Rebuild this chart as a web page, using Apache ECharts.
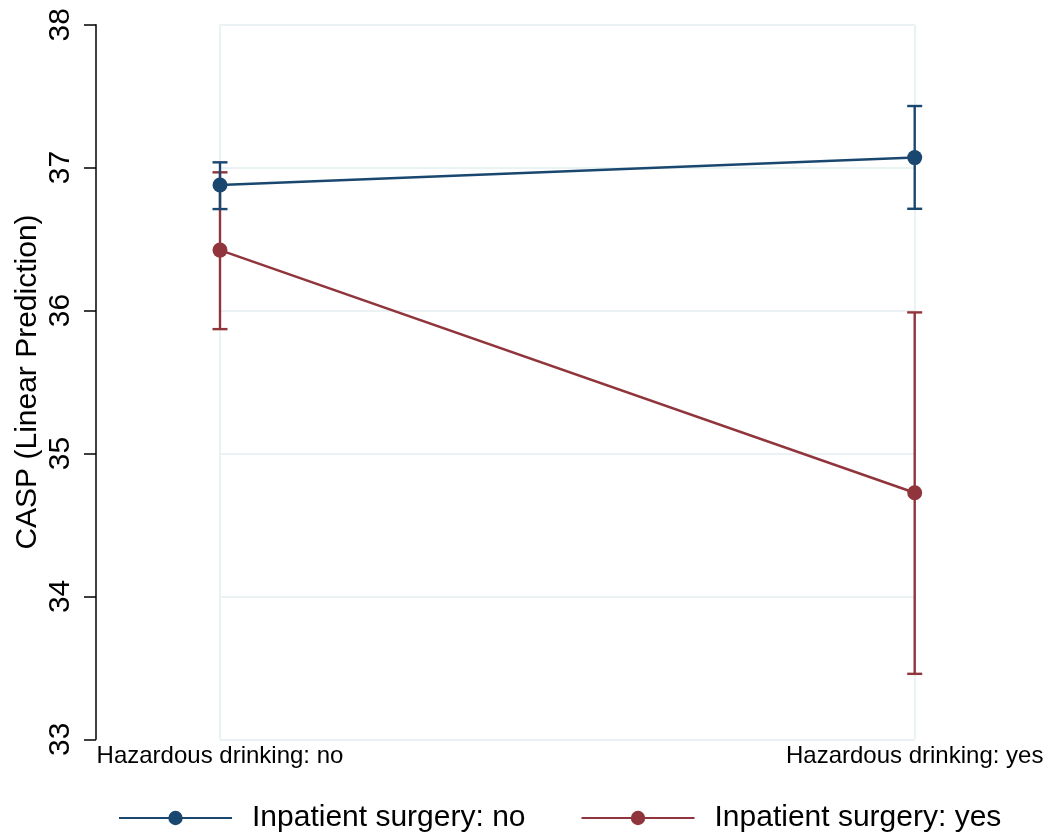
<!DOCTYPE html>
<html>
<head>
<meta charset="utf-8">
<script src="https://cdn.jsdelivr.net/npm/echarts@6/dist/echarts.min.js"></script>
<style>
  html, body { margin: 0; padding: 0; background: #ffffff; }
  #chart { width: 1052px; height: 839px; }
</style>
</head>
<body>
<div id="chart"></div>
<script>
const categories = ['Hazardous drinking: no', 'Hazardous drinking: yes'];
const seriesNames = ['Inpatient surgery: no', 'Inpatient surgery: yes'];
const surgeryNo = [36.878, 37.070];
const surgeryNoLow = [36.710, 36.712];
const surgeryNoHigh = [37.037, 37.431];
const surgeryYes = [36.423, 34.725];
const surgeryYesLow = [35.870, 33.458];
const surgeryYesHigh = [36.967, 35.987];
const yMin = 33, yMax = 38, yStep = 1;

const colors = ['#1a476f', '#90353b'];
const FONT = '"Liberation Sans", Arial, Helvetica, sans-serif';

function points(vals) { return vals.map((v, i) => [i, v]); }
function bars(lo, hi) { return lo.map((l, i) => [i, l, hi[i]]); }

function errRender(color) {
  return function (params, api) {
    const x = api.value(0), lo = api.value(1), hi = api.value(2);
    const a = api.coord([x, hi]);
    const b = api.coord([x, lo]);
    const hw = 7.5;
    const style = { stroke: color, lineWidth: 2.4, fill: null };
    return {
      type: 'group',
      children: [
        { type: 'line', shape: { x1: a[0], y1: a[1], x2: b[0], y2: b[1] }, style: style },
        { type: 'line', shape: { x1: a[0] - hw, y1: a[1], x2: a[0] + hw, y2: a[1] }, style: style },
        { type: 'line', shape: { x1: b[0] - hw, y1: b[1], x2: b[0] + hw, y2: b[1] }, style: style }
      ]
    };
  };
}

const chart = echarts.init(document.getElementById('chart'), null, { renderer: 'canvas' });
chart.setOption({
  backgroundColor: '#ffffff',
  animation: false,
  textStyle: { fontFamily: FONT },
  grid: { left: 220, right: 137.3, top: 24.7, bottom: 99.7, containLabel: false, outerBoundsMode: 'none' },
  xAxis: {
    type: 'value', min: 0, max: categories.length - 1, interval: 1,
    axisLine: { show: false, onZero: false }, axisTick: { show: false },
    splitLine: { show: true, lineStyle: { color: '#eaf2f3', width: 2 } },
    axisLabel: {
      fontSize: 24, color: '#000', margin: 5, fontFamily: FONT,
      formatter: v => categories[Math.round(v)] || ''
    }
  },
  yAxis: {
    type: 'value', min: yMin, max: yMax, interval: yStep, offset: 124,
    name: 'CASP (Linear Prediction)', nameLocation: 'middle', nameGap: 53, nameMoveOverlap: false,
    nameTextStyle: { fontSize: 30, color: '#000', fontFamily: FONT },
    axisLine: { show: true, onZero: false, lineStyle: { color: '#000', width: 1.5 } },
    axisTick: { show: true, length: 12, lineStyle: { color: '#000', width: 1.5 } },
    axisLabel: { rotate: 90, fontSize: 30, color: '#000', margin: 20, fontFamily: FONT },
    splitLine: { show: true, lineStyle: { color: '#eaf2f3', width: 2 } }
  },
  legend: {
    data: seriesNames,
    left: 113, top: 798,
    itemWidth: 113, itemHeight: 18, itemGap: 55,
    textStyle: { fontSize: 30, color: '#000', fontFamily: FONT, padding: [0, 0, 0, 15] }
  },
  series: [
    { type: 'custom', name: 'ci_yes', data: bars(surgeryYesLow, surgeryYesHigh), renderItem: errRender(colors[1]), z: 2 },
    { type: 'custom', name: 'ci_no', data: bars(surgeryNoLow, surgeryNoHigh), renderItem: errRender(colors[0]), z: 2 },
    {
      type: 'line', name: seriesNames[0], data: points(surgeryNo), z: 3,
      symbol: 'circle', symbolSize: 15, color: colors[0],
      lineStyle: { color: colors[0], width: 2.5 }, itemStyle: { color: colors[0] }
    },
    {
      type: 'line', name: seriesNames[1], data: points(surgeryYes), z: 3,
      symbol: 'circle', symbolSize: 15, color: colors[1],
      lineStyle: { color: colors[1], width: 2.5 }, itemStyle: { color: colors[1] }
    }
  ]
});
</script>
</body>
</html>
